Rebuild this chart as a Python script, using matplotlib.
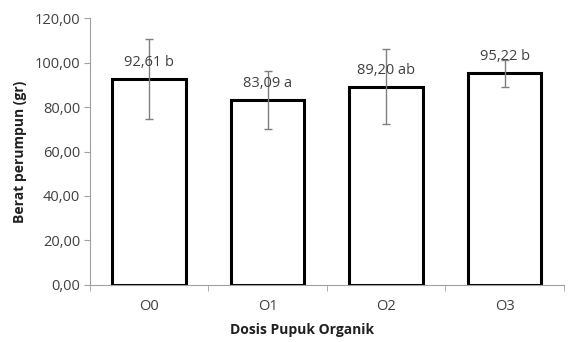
import matplotlib.pyplot as plt

categories = ['O0', 'O1', 'O2', 'O3']
means = [92.61, 83.09, 89.20, 95.22]
errors = [18.0, 13.0, 17.0, 6.0]
letters = ['b', 'a', 'ab', 'b']
yticks = [0, 20, 40, 60, 80, 100, 120]

plt.rcParams['font.family'] = ['Open Sans', 'DejaVu Sans']

fig = plt.figure(figsize=(5.68, 3.42), dpi=100)
ax = fig.add_axes([0.158, 0.167, 0.835, 0.78])

x = range(len(categories))
ax.bar(x, means, width=0.62, color='white', edgecolor='black', linewidth=2.2, zorder=2)
ax.errorbar(x, means, yerr=errors, fmt='none', ecolor='#7f7f7f', elinewidth=1.0,
            capsize=3, capthick=1.0, zorder=3)

# value + letter above each bar
for i, (m, l) in enumerate(zip(means, letters)):
    label = ('%.2f' % m).replace('.', ',') + ' ' + l
    ax.text(i, m + 4, label, ha='center', va='bottom', fontsize=10.5, color='#404040', zorder=4)

ax.set_xlim(-0.5, 3.5)
ax.set_ylim(0, 120)
ax.set_yticks(yticks)
ax.set_yticklabels([('%.2f' % v).replace('.', ',') for v in yticks])
ax.set_xticks(list(x))
ax.set_xticklabels(categories)
ax.tick_params(axis='x', length=0, pad=10, labelsize=10.5, colors='#404040')
ax.set_xticks([-0.5, 0.5, 1.5, 2.5, 3.5], minor=True)
ax.tick_params(axis='x', which='minor', length=4, color='#a0a0a0')
ax.tick_params(axis='y', length=4, color='#a0a0a0', labelsize=10.5, labelcolor='#404040', pad=3)

for s in ['top', 'right']:
    ax.spines[s].set_visible(False)
for s in ['left', 'bottom']:
    ax.spines[s].set_color('#a0a0a0')
    ax.spines[s].set_linewidth(0.8)

ax.set_ylabel('Berat perumpun (gr)', fontsize=10, fontweight='bold', color='#202020', labelpad=5)
fig.text(302 / 568, 1 - 330 / 342, 'Dosis Pupuk Organik', ha='center', va='center',
         fontsize=10, fontweight='bold', color='#202020')

fig.savefig('out.png', dpi=100)
